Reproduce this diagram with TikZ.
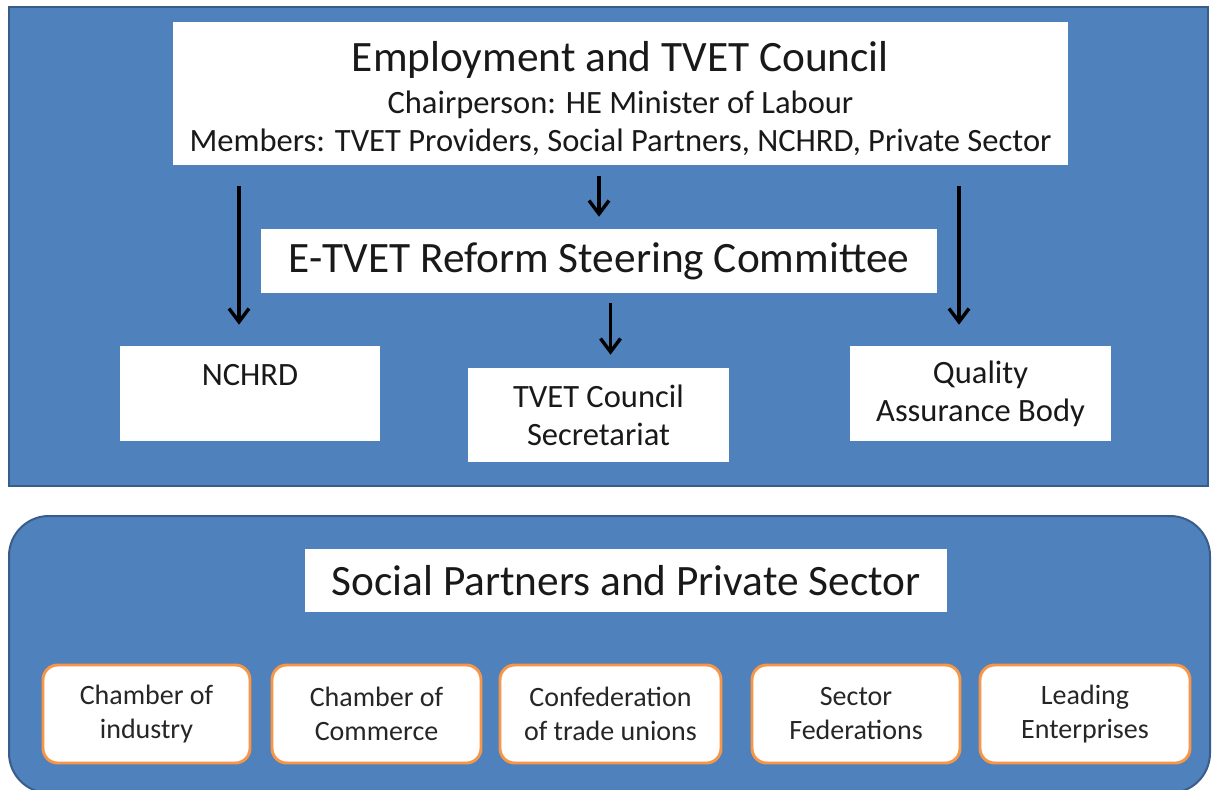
\documentclass[tikz,border=0pt]{standalone}
\usepackage{fontspec}
\setmainfont{Carlito}
\usepackage{tikz}
\usetikzlibrary{arrows.meta,calc}

\definecolor{panelblue}{HTML}{4F81BD}
\definecolor{paneledge}{HTML}{385D8A}
\definecolor{partneredge}{HTML}{F79646}

\begin{document}
\begin{tikzpicture}[x=0.75pt, y=-0.75pt,
    panel/.style={fill=panelblue, draw=paneledge, line width=1.5pt},
    whitebox/.style={fill=white, text=black!90, align=center, inner sep=0pt,
      font=\fontsize{24.4}{28.5}\selectfont},
    headbox/.style={whitebox, font=\fontsize{32.5}{39}\selectfont},
    partner/.style={fill=white, draw=partneredge, line width=2.2pt, rounded corners=11pt,
      align=center, inner sep=0pt, text=black!85, minimum height=73.5pt,
      font=\fontsize{21}{25.5}\selectfont},
    flow/.style={-{Straight Barb[length=10pt,width=15pt]}, line width=2.6pt},
    ]
  \useasboundingbox (0,0) rectangle (1212,789);
  \clip (0,0) rectangle (1212,789);
  \fill[white] (0,0) rectangle (1212,789);

  % two background panels
  \draw[panel] (9,7) rectangle (1208,486);
  \draw[panel, rounded corners=30pt] (9,516) rectangle (1210,793);

  % council and its bodies
  \node[whitebox, minimum width=671.25pt, minimum height=107.25pt] (council) at (620.5,93.5)
    {\rule{0pt}{30pt}{\fontsize{32.5}{39}\selectfont Employment and TVET Council}\\[3.5pt]
     Chairperson: HE Minister of Labour\\
     Members: TVET Providers, Social Partners, NCHRD, Private Sector};
  \node[headbox, minimum width=507pt, minimum height=48pt] (steering) at (599,261)
    {E-TVET Reform Steering Committee};
  \node[whitebox, minimum width=195pt, minimum height=71.25pt] (nchrd) at (250,393.5)
    {NCHRD\\\mbox{}};
  \node[whitebox, minimum width=195.75pt, minimum height=70.5pt] (secretariat) at (598.5,415)
    {TVET Council\\Secretariat};
  \node[whitebox, minimum width=195.75pt, minimum height=71.25pt] (qab) at (980.5,393.5)
    {Quality\\Assurance Body};

  \draw[flow] ($(nchrd.north |- council.south)+(-11,21)$) -- ($(nchrd.north)+(-11,-21)$);
  \draw[flow] ($(council.south -| steering.north)+(0,11)$) -- ($(steering.north)+(0,-12)$);
  \draw[flow] ($(steering.south -| secretariat.north)+(12,10)$) -- ($(secretariat.north)+(12,-13)$);
  \draw[flow] ($(qab.north |- council.south)+(-21.5,21)$) -- ($(qab.north)+(-21.5,-21)$);

  % social partners
  \node[headbox, minimum width=481.5pt, minimum height=47.25pt] (social) at (626,580.5)
    {Social Partners and Private Sector};
  \node[partner, minimum width=155.25pt] (industry) at (146.5,714) {Chamber of\\industry};
  \node[partner, minimum width=156.75pt] (commerce) at (376.5,714) {Chamber of\\Commerce};
  \node[partner, minimum width=165.75pt] (unions) at (610.5,714) {Confederation\\of trade unions};
  \node[partner, minimum width=156pt] (federations) at (856,714) {Sector\\Federations};
  \node[partner, minimum width=157.5pt] (enterprises) at (1085,714) {Leading\\Enterprises};
\end{tikzpicture}
\end{document}
